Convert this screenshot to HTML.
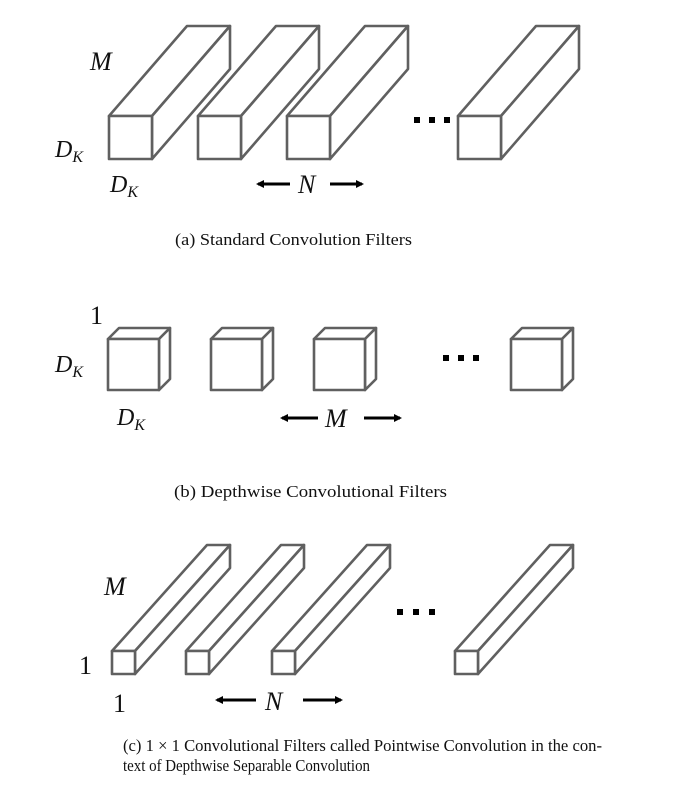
<!DOCTYPE html>
<html><head><meta charset="utf-8"><style>
html,body{margin:0;padding:0;background:#fff;}
svg{display:block;}
.b{fill:#fff;stroke:#606060;stroke-width:2.6;stroke-linejoin:round;}
.m{font-family:"Liberation Serif",serif;font-style:italic;fill:#111;}
.n{font-family:"Liberation Serif",serif;fill:#111;}
.c{font-family:"Liberation Serif",serif;fill:#111;font-size:17px;}
</style></head><body>
<svg width="686" height="785" viewBox="0 0 686 785" xmlns="http://www.w3.org/2000/svg">
<defs><marker id="ah" markerWidth="8" markerHeight="8" refX="6" refY="4" orient="auto" markerUnits="userSpaceOnUse"><path d="M0,0 L8,4 L0,8 z" fill="#000"/></marker></defs>
<!-- (a) -->
<g class="b">
<polygon points="109,116 187,26 230,26 152,116"/><polygon points="152,116 230,26 230,69 152,159"/><rect x="109" y="116" width="43" height="43"/>
<polygon points="198,116 276,26 319,26 241,116"/><polygon points="241,116 319,26 319,69 241,159"/><rect x="198" y="116" width="43" height="43"/>
<polygon points="287,116 365,26 408,26 330,116"/><polygon points="330,116 408,26 408,69 330,159"/><rect x="287" y="116" width="43" height="43"/>
<polygon points="458,116 536,26 579,26 501,116"/><polygon points="501,116 579,26 579,69 501,159"/><rect x="458" y="116" width="43" height="43"/>
</g>
<g fill="#000"><rect x="414" y="117" width="6" height="6"/><rect x="429" y="117" width="6" height="6"/><rect x="444" y="117" width="6" height="6"/></g>
<text class="m" x="90" y="70" font-size="26">M</text>
<text class="m" x="55" y="157" font-size="24">D<tspan font-size="16" dy="5">K</tspan></text>
<text class="m" x="110" y="192" font-size="24">D<tspan font-size="16" dy="5">K</tspan></text>
<line x1="290" y1="184" x2="258" y2="184" stroke="#000" stroke-width="3" marker-end="url(#ah)"/>
<text class="m" x="298" y="193" font-size="26">N</text>
<line x1="330" y1="184" x2="362" y2="184" stroke="#000" stroke-width="3" marker-end="url(#ah)"/>
<text class="c" x="175" y="245" textLength="237" lengthAdjust="spacingAndGlyphs">(a)  Standard Convolution Filters</text>
<!-- (b) -->
<g class="b">
<polygon points="108,339 119,328 170,328 159,339"/><polygon points="159,339 170,328 170,379 159,390"/><rect x="108" y="339" width="51" height="51"/>
<polygon points="211,339 222,328 273,328 262,339"/><polygon points="262,339 273,328 273,379 262,390"/><rect x="211" y="339" width="51" height="51"/>
<polygon points="314,339 325,328 376,328 365,339"/><polygon points="365,339 376,328 376,379 365,390"/><rect x="314" y="339" width="51" height="51"/>
<polygon points="511,339 522,328 573,328 562,339"/><polygon points="562,339 573,328 573,379 562,390"/><rect x="511" y="339" width="51" height="51"/>
</g>
<g fill="#000"><rect x="443" y="355" width="6" height="6"/><rect x="458" y="355" width="6" height="6"/><rect x="473" y="355" width="6" height="6"/></g>
<text class="n" x="90" y="324" font-size="26">1</text>
<text class="m" x="55" y="372" font-size="24">D<tspan font-size="16" dy="5">K</tspan></text>
<text class="m" x="117" y="425" font-size="24">D<tspan font-size="16" dy="5">K</tspan></text>
<line x1="318" y1="418" x2="282" y2="418" stroke="#000" stroke-width="3" marker-end="url(#ah)"/>
<text class="m" x="325" y="427" font-size="26">M</text>
<line x1="364" y1="418" x2="400" y2="418" stroke="#000" stroke-width="3" marker-end="url(#ah)"/>
<text class="c" x="174" y="497" textLength="273" lengthAdjust="spacingAndGlyphs">(b)  Depthwise Convolutional Filters</text>
<!-- (c) -->
<g class="b">
<polygon points="112,651 207,545 230,545 135,651"/><polygon points="135,651 230,545 230,568 135,674"/><rect x="112" y="651" width="23" height="23"/>
<polygon points="186,651 281,545 304,545 209,651"/><polygon points="209,651 304,545 304,568 209,674"/><rect x="186" y="651" width="23" height="23"/>
<polygon points="272,651 367,545 390,545 295,651"/><polygon points="295,651 390,545 390,568 295,674"/><rect x="272" y="651" width="23" height="23"/>
<polygon points="455,651 550,545 573,545 478,651"/><polygon points="478,651 573,545 573,568 478,674"/><rect x="455" y="651" width="23" height="23"/>
</g>
<g fill="#000"><rect x="397" y="609" width="6" height="6"/><rect x="413" y="609" width="6" height="6"/><rect x="429" y="609" width="6" height="6"/></g>
<text class="m" x="104" y="595" font-size="26">M</text>
<text class="n" x="79" y="674" font-size="26">1</text>
<text class="n" x="113" y="712" font-size="26">1</text>
<line x1="256" y1="700" x2="217" y2="700" stroke="#000" stroke-width="3" marker-end="url(#ah)"/>
<text class="m" x="265" y="710" font-size="26">N</text>
<line x1="303" y1="700" x2="341" y2="700" stroke="#000" stroke-width="3" marker-end="url(#ah)"/>
<text class="c" x="123" y="751" textLength="479" lengthAdjust="spacingAndGlyphs">(c)  1 × 1 Convolutional Filters called Pointwise Convolution in the con-</text>
<text class="c" x="123" y="771" textLength="247" lengthAdjust="spacingAndGlyphs">text of Depthwise Separable Convolution</text>
</svg>
</body></html>
